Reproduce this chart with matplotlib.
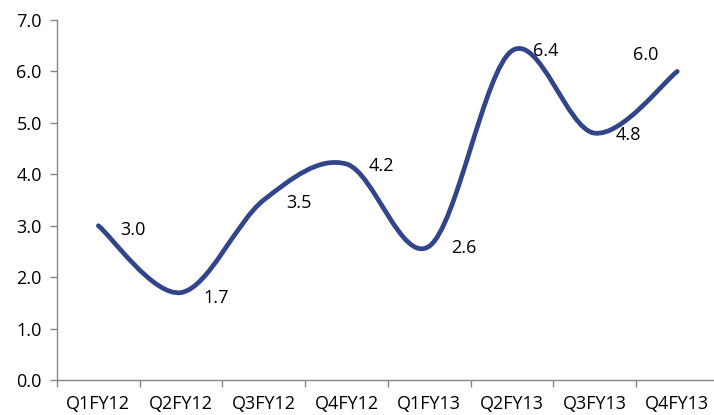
import numpy as np
import matplotlib
matplotlib.use("Agg")
import matplotlib.pyplot as plt
from matplotlib.path import Path
from matplotlib.patches import PathPatch

categories = ["Q1FY12", "Q2FY12", "Q3FY12", "Q4FY12", "Q1FY13", "Q2FY13", "Q3FY13", "Q4FY13"]
values = [3.0, 1.7, 3.5, 4.2, 2.6, 6.4, 4.8, 6.0]
yticks = [0, 1, 2, 3, 4, 5, 6, 7]

plt.rcParams['font.family'] = ['Open Sans', 'DejaVu Sans']

fig = plt.figure(figsize=(7.14, 4.15), dpi=100)
ax = fig.add_axes([57/714, 1-380/415, (8*82.7)/714, 360/415])

x = np.arange(len(values), dtype=float)
y = np.array(values, dtype=float)
n = len(x)

# Excel-like smoothed line (cubic Bezier, Catmull-Rom control points)
verts = [(x[0], y[0])]
codes = [Path.MOVETO]
for i in range(n - 1):
    p0 = np.array([x[max(i-1, 0)], y[max(i-1, 0)]])
    p1 = np.array([x[i], y[i]])
    p2 = np.array([x[i+1], y[i+1]])
    p3 = np.array([x[min(i+2, n-1)], y[min(i+2, n-1)]])
    c1 = p1 + (p2 - p0) / 6.0
    c2 = p2 - (p3 - p1) / 6.0
    verts += [tuple(c1), tuple(c2), tuple(p2)]
    codes += [Path.CURVE4, Path.CURVE4, Path.CURVE4]
patch = PathPatch(Path(verts, codes), facecolor='none', edgecolor='#33458A',
                  lw=3.4, capstyle='round', joinstyle='round')
ax.add_patch(patch)

ax.set_xlim(-0.5, n - 0.5)
ax.set_ylim(0, 7)
ax.set_yticks(yticks)
ax.set_yticklabels([f"{v:.1f}" for v in yticks])
ax.set_xticks(x)
ax.set_xticklabels(categories)
ax.set_xticks(np.arange(-0.5, n, 1.0), minor=True)
ax.tick_params(axis='x', which='major', length=0, pad=10.5, labelsize=13, colors='black')
ax.tick_params(axis='x', which='minor', length=5, color='#868686', width=1)
ax.tick_params(axis='y', length=5, color='#868686', width=1, labelsize=13, pad=6)
for s in ['top', 'right']:
    ax.spines[s].set_visible(False)
for s in ['left', 'bottom']:
    ax.spines[s].set_color('#868686')
    ax.spines[s].set_linewidth(1)

offsets = [(16, -3), (16, -4), (16, -2.5), (16, -1.5), (16, -1.5), (15, 0), (15, -1.5), (-32, 11.5)]
for xi, yi, (dx, dy) in zip(x, y, offsets):
    ax.annotate(f"{yi:.1f}", (xi, yi), xytext=(dx, dy), textcoords='offset points',
                ha='left', va='center', fontsize=13, color='black')

fig.savefig("out.png", dpi=100)
